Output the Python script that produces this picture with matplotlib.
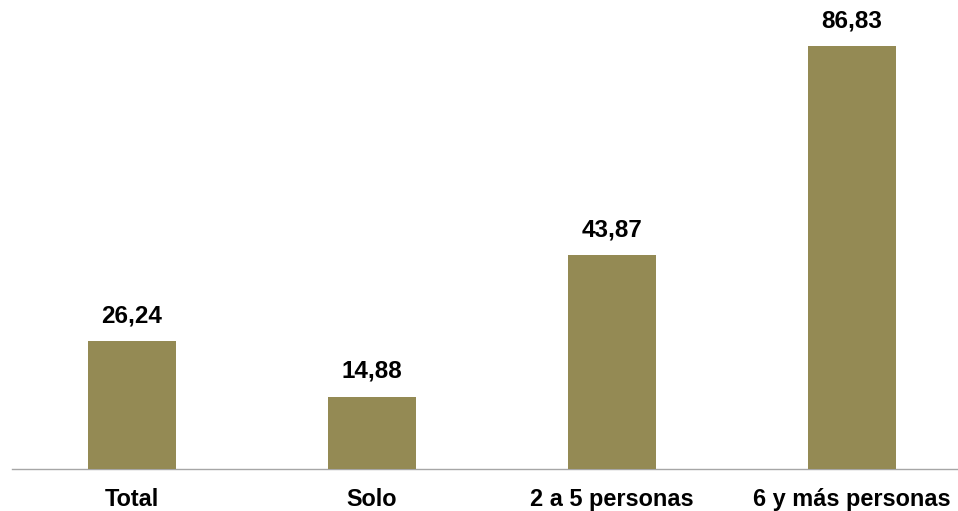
import matplotlib.pyplot as plt

# datos
categorias = ["Total", "Solo", "2 a 5 personas", "6 y más personas"]
valores = [26.24, 14.88, 43.87, 86.83]
etiquetas = ["26,24", "14,88", "43,87", "86,83"]

plt.rcParams['font.family'] = ['Liberation Sans', 'DejaVu Sans']

fig = plt.figure(figsize=(9.58, 5.11), dpi=100)
ax = fig.add_axes([12 / 958, 42 / 511, 946 / 958, 469 / 511])

x = range(len(categorias))
barras = ax.bar(x, valores, width=0.367, color="#948A54", zorder=3)

# etiquetas de valor encima de cada barra
for b, txt in zip(barras, etiquetas):
    ax.annotate(txt, (b.get_x() + b.get_width() / 2, b.get_height()),
                xytext=(0, 10), textcoords="offset points",
                ha="center", va="bottom", fontsize=17.5, fontweight="bold")

ax.set_xlim(-0.5, -0.5 + 946 / 240)
ax.set_ylim(0, 96.3)
ax.set_xticks(list(x))
ax.set_xticklabels(categorias, fontsize=16.9, fontweight="bold")
ax.tick_params(axis="x", length=0, pad=13.5)
ax.set_yticks([])

for s in ["top", "right", "left"]:
    ax.spines[s].set_visible(False)
ax.spines["bottom"].set_color("#A6A6A6")
ax.spines["bottom"].set_linewidth(1)

fig.savefig("out.png", dpi=100)
